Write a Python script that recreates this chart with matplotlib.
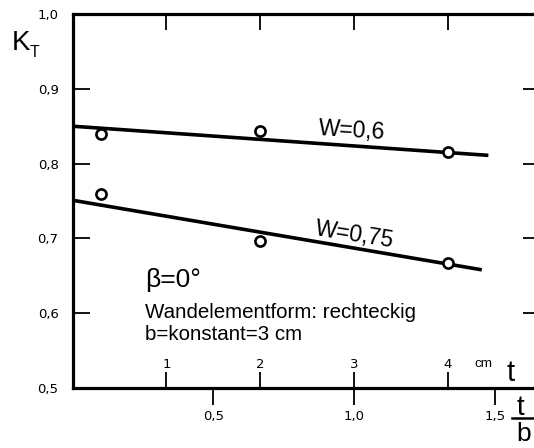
import matplotlib.pyplot as plt
from matplotlib.lines import Line2D

# Messpunkte, Wandstaerke t in cm
t_points = [0.3, 2.0, 4.0]
kt_w060 = [0.840, 0.844, 0.815]
kt_w075 = [0.759, 0.696, 0.667]

# Ausgleichsgeraden
t_fit_w060 = [0.0, 4.43]
kt_fit_w060 = [0.850, 0.811]
t_fit_w075 = [0.0, 4.36]
kt_fit_w075 = [0.751, 0.658]

y_ticks = [0.5, 0.6, 0.7, 0.8, 0.9, 1.0]
y_labels = ["0,5", "0,6", "0,7", "0,8", "0,9", "1,0"]
t_ticks = [1, 2, 3, 4]
t_labels = ["1", "2", "3", "4"]
tb_ticks = [0.5, 1.0, 1.5]
tb_labels = ["0,5", "1,0", "1,5"]

W, H = 534, 448
LIB = "Liberation Sans"


def fx(px):
    return px / W


def fy(py):
    return 1 - py / H


fig = plt.figure(figsize=(W / 100, H / 100), dpi=100)
ax = fig.add_axes([fx(72.5), fy(388), (540 - 72.5) / W, (388 - 14) / H])
ax.set_xlim(0, 4.98)
ax.set_ylim(0.5, 1.0)

ax.plot(t_fit_w060, kt_fit_w060, color="black", lw=2.6, solid_capstyle="butt")
ax.plot(t_fit_w075, kt_fit_w075, color="black", lw=2.6, solid_capstyle="butt")
for vals in (kt_w060, kt_w075):
    ax.plot(t_points, vals, "o", ms=7.3, mfc="white", mec="black", mew=1.9, zorder=3)

ax.spines["right"].set_visible(False)
for s in ("left", "top", "bottom"):
    ax.spines[s].set_linewidth(2.3)

ax.set_yticks(y_ticks, y_labels)
ax.tick_params(axis="y", direction="in", length=12, width=1.3,
               left=True, right=True, labelsize=9.5, pad=10)
ax.set_xticks(t_ticks, t_labels)
ax.tick_params(axis="x", direction="in", length=11.5, width=1.3,
               top=True, bottom=True, labelsize=9.5, pad=-21.6)

sec = ax.secondary_xaxis("bottom", functions=(lambda t: t / 3.0, lambda r: r * 3.0))
sec.set_xticks(tb_ticks, tb_labels)
sec.tick_params(direction="out", length=12, width=1.3, labelsize=9.5, pad=3.5)
sec.spines["bottom"].set_visible(False)

# Beschriftungen
fig.text(fx(12), fy(50), "K", fontsize=20, family=LIB, va="baseline")
fig.text(fx(30), fy(57), "T", fontsize=11.5, family=LIB, va="baseline")
fig.text(fx(352), fy(131), "W=0,6", fontsize=16.5, family=LIB, rotation=-3.5,
         ha="center", va="center")
fig.text(fx(355), fy(235), "W=0,75", fontsize=16.5, family=LIB, rotation=-9,
         ha="center", va="center")
fig.text(fx(145), fy(287), "β=0°", fontsize=19, family=LIB, va="baseline")
fig.text(fx(145), fy(318), "Wandelementform: rechteckig", fontsize=14.8,
         family=LIB, va="baseline")
fig.text(fx(145), fy(340), "b=konstant=3 cm", fontsize=14.8, family=LIB, va="baseline")
fig.text(fx(483), fy(367), "cm", fontsize=9.7, family=LIB, ha="center", va="baseline")
fig.text(fx(511), fy(381), "t", fontsize=21, family=LIB, ha="center", va="baseline")
fig.text(fx(520), fy(415), "t", fontsize=20, family=LIB, ha="center", va="baseline")
fig.text(fx(524), fy(441), "b", fontsize=19, family=LIB, ha="center", va="baseline")
fig.add_artist(Line2D([fx(512), fx(545)], [fy(418), fy(418)], color="black", lw=1.8))

fig.savefig("out.png", dpi=100)
